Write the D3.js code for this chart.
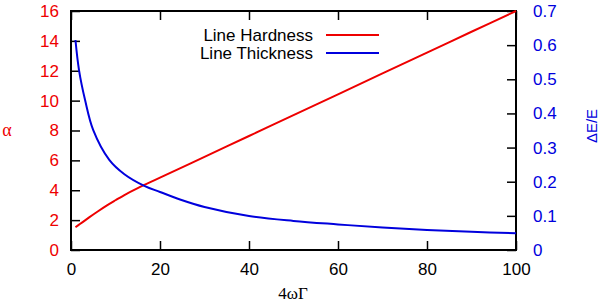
<!DOCTYPE html>
<html>
<head>
<meta charset="utf-8">
<script src="https://cdn.jsdelivr.net/npm/d3@7"></script>
<style>
  body { margin: 0; background: #fff; }
  svg text { font-family: "Liberation Sans", Arial, sans-serif; }
</style>
</head>
<body>
<div id="chart"></div>
<script>
// values
var hardX = [1, 2, 4, 6, 8, 10, 12, 15, 20, 30, 40, 50, 60, 70, 80, 90, 100];
var hardY = [1.52, 1.74, 2.17, 2.58, 2.97, 3.33, 3.68, 4.14, 4.84, 6.24, 7.63, 9.03, 10.42, 11.82, 13.21, 14.61, 16.0];

var thickX = [1, 1.8, 3.15, 5, 8.6, 12, 16.6, 20, 24.5, 30, 40, 50, 60, 70, 80, 90, 100];
var thickY = [0.615, 0.527, 0.44, 0.351, 0.264, 0.222, 0.187, 0.17, 0.148, 0.126, 0.0996, 0.0852, 0.075, 0.0657, 0.0586, 0.0533, 0.049];

var xTicks = [0, 20, 40, 60, 80, 100];
var leftTicks = [0, 2, 4, 6, 8, 10, 12, 14, 16];
var rightTicks = [0, 0.1, 0.2, 0.3, 0.4, 0.5, 0.6, 0.7];

var seriesNames = ["Line Hardness", "Line Thickness"];

var red = "#ee0000", blue = "#0000dd";

var width = 600, height = 303;
var plotL = 71, plotR = 516, plotT = 11, plotB = 250;

var svg = d3.select("#chart").append("svg")
    .attr("width", width)
    .attr("height", height);

var x = d3.scaleLinear().domain([0, 100]).range([plotL, plotR]);
var yL = d3.scaleLinear().domain([0, 16]).range([plotB, plotT]);
var yR = d3.scaleLinear().domain([0, 0.7]).range([plotB, plotT]);

var tickLen = 9;

// bottom axis
var gx = svg.append("g")
    .attr("transform", "translate(0," + plotB + ")")
    .call(d3.axisBottom(x).tickValues(xTicks).tickSizeInner(-tickLen).tickSizeOuter(0).tickPadding(13));
// top ticks (mirror)
var gxt = svg.append("g")
    .attr("transform", "translate(0," + plotT + ")")
    .call(d3.axisTop(x).tickValues(xTicks).tickSizeInner(-tickLen).tickSizeOuter(0).tickFormat(""));

var gl = svg.append("g")
    .attr("transform", "translate(" + plotL + ",0)")
    .call(d3.axisLeft(yL).tickValues(leftTicks).tickSizeInner(-tickLen).tickSizeOuter(0).tickPadding(12));

var gr = svg.append("g")
    .attr("transform", "translate(" + plotR + ",0)")
    .call(d3.axisRight(yR).tickValues(rightTicks).tickSizeInner(-tickLen).tickSizeOuter(0).tickPadding(17)
        .tickFormat(function(d) { return d === 0 ? "0" : d3.format(".1f")(d); }));

[gx, gxt, gl, gr].forEach(function(g) {
    g.select(".domain").remove();
    g.selectAll(".tick line").attr("stroke", "#000").attr("stroke-width", 1.5);
    g.selectAll(".tick text").style("font-size", "17px").attr("fill", "#000");
});
gl.selectAll(".tick text").attr("fill", red);
gr.selectAll(".tick text").attr("fill", blue);

// frame
svg.append("rect")
    .attr("x", plotL).attr("y", plotT)
    .attr("width", plotR - plotL).attr("height", plotB - plotT)
    .attr("fill", "none").attr("stroke", "#000").attr("stroke-width", 2);

// lines
var hardData = hardX.map(function(d, i) { return [d, hardY[i]]; });
var thickData = thickX.map(function(d, i) { return [d, thickY[i]]; });

var hardLine = d3.line()
    .x(function(d) { return x(d[0]); })
    .y(function(d) { return yL(d[1]); })
    .curve(d3.curveCatmullRom.alpha(0.5));
var thickLine = d3.line()
    .x(function(d) { return x(d[0]); })
    .y(function(d) { return yR(d[1]); })
    .curve(d3.curveCatmullRom.alpha(0.5));

svg.append("path").datum(hardData)
    .attr("d", hardLine)
    .attr("fill", "none").attr("stroke", red).attr("stroke-width", 2);
svg.append("path").datum(thickData)
    .attr("d", thickLine)
    .attr("fill", "none").attr("stroke", blue).attr("stroke-width", 2);

// legend
var legend = svg.append("g");
[red, blue].forEach(function(c, i) {
    var yy = 35 + i * 18;
    legend.append("text")
        .attr("x", 313).attr("y", yy)
        .attr("dy", "0.35em")
        .attr("text-anchor", "end")
        .style("font-size", "17px")
        .text(seriesNames[i]);
    legend.append("line")
        .attr("x1", 326).attr("x2", 379)
        .attr("y1", yy).attr("y2", yy)
        .attr("stroke", c).attr("stroke-width", 2);
});

// axis labels
svg.append("text")
    .attr("x", 7).attr("y", 130)
    .attr("text-anchor", "middle")
    .attr("dy", "0.35em")
    .style("font-family", "'Liberation Serif', serif")
    .style("font-size", "18px")
    .attr("fill", red)
    .text("α");

svg.append("text")
    .attr("transform", "translate(592,126) rotate(-90)")
    .attr("text-anchor", "middle")
    .attr("dy", "0.35em")
    .style("font-size", "15px")
    .attr("fill", blue)
    .text("ΔE/E");

svg.append("text")
    .attr("x", 293).attr("y", 299)
    .attr("text-anchor", "middle")
    .style("font-family", "'Liberation Serif', serif")
    .style("font-size", "17px")
    .attr("fill", "#000")
    .text("4ωΓ");
</script>
</body>
</html>
